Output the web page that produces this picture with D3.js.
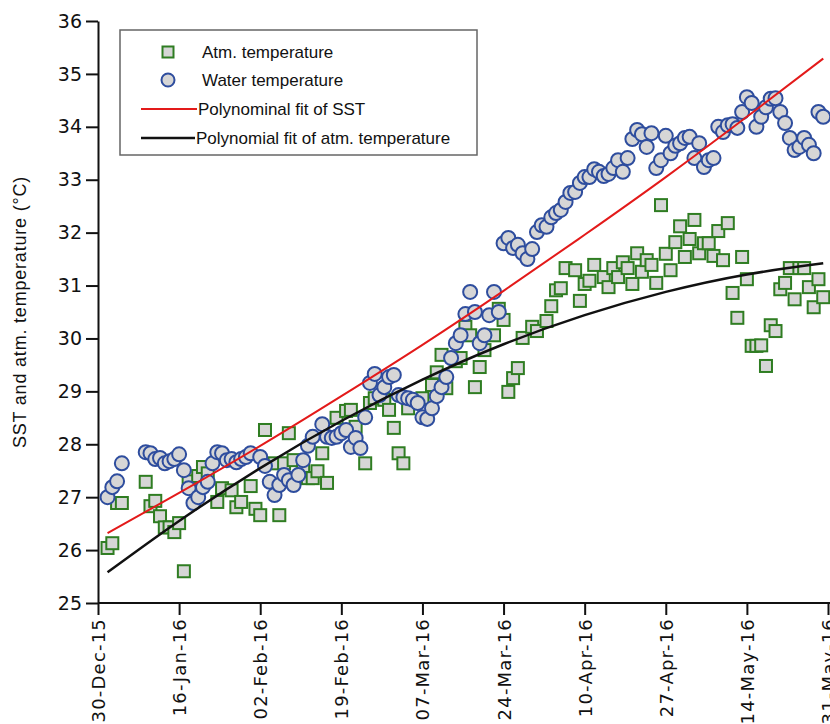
<!DOCTYPE html>
<html>
<head>
<meta charset="utf-8">
<script src="https://cdn.jsdelivr.net/npm/d3@7"></script>
<style>
  body { margin: 0; background: #fff; }
  svg { display: block; }
</style>
</head>
<body>
<svg id="chart" width="830" height="724"></svg>
<script>
// days counted from 30-Dec-15
const startDate = "30-Dec-15";
const tickLabels = ["30-Dec-15", "16-Jan-16", "02-Feb-16", "19-Feb-16", "07-Mar-16",
  "24-Mar-16", "10-Apr-16", "27-Apr-16", "14-May-16", "31-May-16"];
const yTicks = [25, 26, 27, 28, 29, 30, 31, 32, 33, 34, 35, 36];

const waterDays = [2, 3, 4, 5, 10, 11, 12, 13, 14, 15, 16, 17, 18, 19, 20, 21, 22, 23, 24, 25,
  26, 27, 28, 29, 30, 31, 32, 34, 35, 36, 37, 38, 39, 40, 41, 42, 43, 44, 45, 47,
  48, 49, 50, 51, 52, 53, 54, 55, 56, 57, 58, 59, 60, 61, 62, 63, 64, 65, 66, 67,
  68, 69, 70, 71, 72, 73, 74, 75, 76, 77, 78, 79, 80, 81, 82, 83, 84, 85, 86, 87,
  88, 89, 90, 91, 92, 93, 94, 95, 96, 97, 98, 99, 100, 101, 102, 103, 104, 105, 106, 107,
  108, 109, 110, 111, 112, 113, 114, 115, 116, 117, 118, 119, 120, 121, 122, 123, 124, 125, 126, 127,
  128, 129, 130, 131, 132, 133, 134, 135, 136, 137, 138, 139, 140, 141, 142, 143, 144, 145, 146, 147,
  148, 149, 150, 151, 152];
const waterTemp = [27.00, 27.19, 27.30, 27.64, 27.85, 27.83, 27.72, 27.74, 27.64, 27.68, 27.72, 27.81, 27.51, 27.17, 26.89, 27.00, 27.19, 27.29, 27.64, 27.85,
  27.83, 27.70, 27.72, 27.66, 27.72, 27.76, 27.83, 27.76, 27.59, 27.29, 27.04, 27.23, 27.42, 27.32, 27.23, 27.42, 27.70, 27.97, 28.14, 28.38,
  28.14, 28.12, 28.14, 28.21, 28.27, 27.95, 28.12, 27.93, 28.51, 29.16, 29.33, 28.93, 29.08, 29.27, 29.31, 28.93, 28.89, 28.87, 28.84, 28.78,
  28.51, 28.48, 28.68, 28.91, 29.08, 29.27, 29.63, 29.91, 30.06, 30.46, 30.88, 30.50, 29.91, 30.06, 30.44, 30.88, 30.50, 31.80, 31.90, 31.71,
  31.77, 31.61, 31.50, 31.69, 32.01, 32.14, 32.11, 32.29, 32.37, 32.43, 32.58, 32.75, 32.77, 32.94, 33.05, 33.05, 33.20, 33.15, 33.07, 33.11,
  33.22, 33.37, 33.15, 33.41, 33.77, 33.94, 33.86, 33.62, 33.88, 33.22, 33.37, 33.83, 33.50, 33.64, 33.69, 33.79, 33.81, 33.41, 33.69, 33.24,
  33.37, 33.41, 34.00, 33.90, 34.03, 34.05, 33.98, 34.28, 34.56, 34.45, 34.00, 34.19, 34.37, 34.53, 34.54, 34.28, 34.07, 33.79, 33.56, 33.62,
  33.79, 33.66, 33.50, 34.28, 34.19];

const atmDays = [2, 3, 4, 5, 10, 11, 12, 13, 14, 15, 16, 17, 18, 19, 21, 22, 23, 25, 26, 28,
  29, 30, 32, 33, 34, 35, 37, 38, 39, 40, 41, 43, 44, 45, 46, 47, 48, 50, 52, 53,
  54, 56, 57, 58, 60, 61, 62, 63, 64, 65, 68, 70, 71, 72, 73, 75, 76, 77, 78, 79,
  80, 81, 83, 84, 85, 86, 87, 88, 89, 91, 92, 94, 95, 96, 97, 98, 100, 101, 102, 103,
  104, 106, 107, 108, 109, 110, 111, 112, 113, 114, 115, 116, 117, 118, 119, 120, 121, 122, 123, 124,
  125, 126, 127, 128, 129, 130, 131, 132, 133, 134, 135, 136, 137, 138, 139, 140, 141, 142, 143, 144,
  145, 146, 147, 148, 149, 150, 151, 152];
const atmTemp = [26.04, 26.13, 26.89, 26.89, 27.29, 26.83, 26.93, 26.64, 26.43, 26.43, 26.34, 26.51, 25.60, 27.30, 27.40, 27.57, 27.45, 26.91, 27.17, 27.13,
  26.81, 26.91, 27.21, 26.78, 26.66, 28.27, 27.64, 26.66, 27.64, 28.21, 27.70, 27.51, 27.36, 27.36, 27.49, 27.83, 27.27, 28.50, 28.63, 28.65,
  28.33, 27.64, 28.78, 28.87, 28.84, 28.65, 28.31, 27.83, 27.64, 28.68, 28.87, 29.12, 29.36, 29.69, 29.06, 29.57, 29.63, 30.22, 30.06, 29.08,
  29.46, 29.78, 30.06, 30.56, 30.35, 28.99, 29.25, 29.44, 30.01, 30.22, 30.14, 30.33, 30.61, 30.91, 30.95, 31.33, 31.29, 30.71, 31.03, 31.09,
  31.39, 31.16, 30.97, 31.33, 31.16, 31.44, 31.33, 31.03, 31.61, 31.26, 31.48, 31.39, 31.05, 32.52, 31.60, 31.29, 31.82, 32.12, 31.54, 31.88,
  32.24, 31.61, 31.80, 31.80, 31.56, 32.03, 31.48, 32.18, 30.86, 30.39, 31.54, 31.12, 29.86, 29.86, 29.87, 29.48, 30.25, 30.14, 30.93, 31.05,
  31.33, 30.74, 31.33, 31.33, 30.97, 30.59, 31.12, 30.78];

// fitted curves
const fitDays = [2, 17, 34, 51, 68, 85, 102, 119, 136, 152];
const sstFit = [26.32, 27.08, 27.97, 28.91, 29.88, 30.90, 31.96, 33.05, 34.19, 35.29];
const atmFit = [25.58, 26.55, 27.55, 28.44, 29.22, 29.89, 30.44, 30.88, 31.21, 31.42];

const legendItems = ["Atm. temperature", "Water temperature", "Polynominal fit of SST", "Polynomial fit of atm. temperature"];

const svg = d3.select("#chart");
const parse = d3.utcParse("%d-%b-%y");
const t0 = parse(startDate);
const day = d => d3.utcDay.offset(t0, d);

const x = d3.scaleUtc()
  .domain([t0, parse(tickLabels[tickLabels.length - 1])])
  .range([98, 828]);
const y = d3.scaleLinear().domain([25, 36]).range([603, 21]);

const water = waterDays.map((d, i) => ({ date: day(d), v: waterTemp[i] }));
const atm = atmDays.map((d, i) => ({ date: day(d), v: atmTemp[i] }));

// axes
const xAxis = svg.append("g")
  .attr("transform", "translate(0,603)")
  .call(d3.axisBottom(x)
    .tickValues(tickLabels.map(parse))
    .tickFormat(d3.utcFormat("%d-%b-%y"))
    .tickSize(12)
    .tickSizeOuter(0));
xAxis.select(".domain").attr("d", "M98,0H830");
xAxis.selectAll("line, path").attr("stroke", "#111").attr("stroke-width", 2);
xAxis.selectAll("text")
  .attr("transform", "rotate(-90)")
  .attr("x", -15)
  .attr("y", 0)
  .attr("dy", "0.36em")
  .attr("text-anchor", "end")
  .attr("font-family", "DejaVu Sans")
  .attr("font-size", 18)
  .attr("letter-spacing", 1.2)
  .attr("fill", "#111");

const yAxis = svg.append("g")
  .attr("transform", "translate(98,0)")
  .call(d3.axisLeft(y).tickValues(yTicks).tickSize(12).tickSizeOuter(0));
yAxis.selectAll("line, path").attr("stroke", "#111").attr("stroke-width", 2);
yAxis.selectAll("text")
  .attr("x", -16)
  .attr("font-family", "DejaVu Sans")
  .attr("font-size", 19)
  .attr("fill", "#111");

svg.append("text")
  .attr("transform", "translate(26,312) rotate(-90)")
  .attr("text-anchor", "middle")
  .attr("font-family", "Liberation Sans, Arial, sans-serif")
  .attr("font-size", 18)
  .attr("letter-spacing", 0.8)
  .attr("fill", "#111")
  .text("SST and atm. temperature (\u00B0C)");

// markers
const sq = 12;
svg.append("g").selectAll("rect")
  .data(atm)
  .join("rect")
  .attr("x", d => x(d.date) - sq / 2)
  .attr("y", d => y(d.v) - sq / 2)
  .attr("width", sq)
  .attr("height", sq)
  .attr("fill", "#d6d6d6")
  .attr("stroke", "#2f7d22")
  .attr("stroke-width", 2);

svg.append("g").selectAll("circle")
  .data(water)
  .join("circle")
  .attr("cx", d => x(d.date))
  .attr("cy", d => y(d.v))
  .attr("r", 7)
  .attr("fill", "#d6d6d6")
  .attr("stroke", "#2e4d9e")
  .attr("stroke-width", 2);

// fit lines
const line = d3.line().x(d => x(d.date)).y(d => y(d.v)).curve(d3.curveNatural);
const sstLine = fitDays.map((d, i) => ({ date: day(d), v: sstFit[i] }));
const atmLine = fitDays.map((d, i) => ({ date: day(d), v: atmFit[i] }));

svg.append("path").datum(sstLine).attr("d", line)
  .attr("fill", "none").attr("stroke", "#e31a1a").attr("stroke-width", 2);
svg.append("path").datum(atmLine).attr("d", line)
  .attr("fill", "none").attr("stroke", "#111").attr("stroke-width", 2.5);

// legend
const legend = svg.append("g");
legend.append("rect")
  .attr("x", 120).attr("y", 30).attr("width", 357).attr("height", 125)
  .attr("fill", "#fff").attr("stroke", "#666").attr("stroke-width", 1.5);

const rowY = [52, 80, 109, 138];
legend.append("rect")
  .attr("x", 168 - 5.5).attr("y", rowY[0] - 5.5).attr("width", 11).attr("height", 11)
  .attr("fill", "#d6d6d6").attr("stroke", "#2f7d22").attr("stroke-width", 2);
legend.append("circle")
  .attr("cx", 168).attr("cy", rowY[1]).attr("r", 6.5)
  .attr("fill", "#d6d6d6").attr("stroke", "#2e4d9e").attr("stroke-width", 2);
legend.append("line")
  .attr("x1", 141).attr("x2", 197).attr("y1", rowY[2]).attr("y2", rowY[2])
  .attr("stroke", "#e31a1a").attr("stroke-width", 2);
legend.append("line")
  .attr("x1", 141).attr("x2", 195).attr("y1", rowY[3]).attr("y2", rowY[3])
  .attr("stroke", "#111").attr("stroke-width", 2.5);

const textX = [202, 202, 198, 196];
legend.selectAll("text.item")
  .data(legendItems)
  .join("text")
  .attr("class", "item")
  .attr("x", (d, i) => textX[i])
  .attr("y", (d, i) => rowY[i])
  .attr("dy", "0.35em")
  .attr("font-family", "Liberation Sans, Arial, sans-serif")
  .attr("font-size", 17)
  .attr("fill", "#111")
  .text(d => d);
</script>
</body>
</html>
